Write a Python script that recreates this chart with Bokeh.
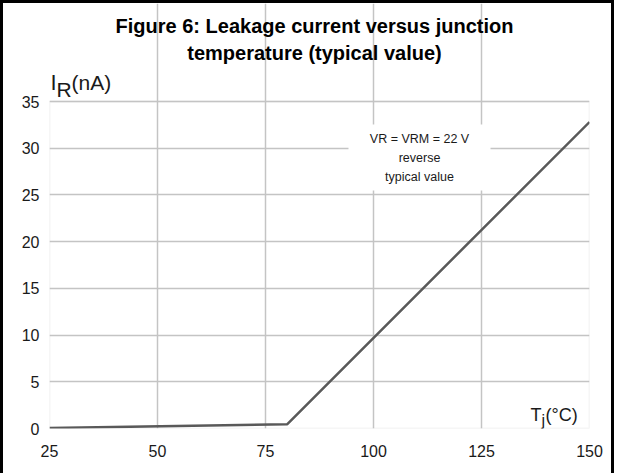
from bokeh.plotting import figure
from bokeh.models import Label, BoxAnnotation, Range1d, FixedTicker
from bokeh.embed import file_html
from bokeh.resources import INLINE

# ---- data ----
tj_c = [25, 80, 150]
ir_na = [0.05, 0.45, 32.8]
x_ticks = [25, 50, 75, 100, 125, 150]
y_ticks = [0, 5, 10, 15, 20, 25, 30, 35]
title_lines = ["Figure 6: Leakage current versus junction", "temperature (typical value)"]
note_lines = ["VR = VRM = 22 V", "reverse", "typical value"]

FONT = "Liberation Sans"
GRID = "#c4c4c4"
W, H = 614, 473

# layout mapping: reference-page pixel -> data coordinates (positions only)
X0, X1, Y0, Y1 = 49.0, 589.0, 428.0, 101.0
def dx(px):
    return 25 + (px - X0) * 125.0 / (X1 - X0)
def dy(py):
    return (Y0 - py) * 35.0 / (Y0 - Y1)

p = figure(width=W, height=H, output_backend="svg", toolbar_location=None,
           x_range=Range1d(25, 150), y_range=Range1d(0, dy(3)),
           min_border_left=46, min_border_right=28, min_border_top=0, min_border_bottom=48)
p.styles = {"border-left": "3px solid black", "border-top": "3px solid black",
            "border-right": "3px solid black"}
p.outline_line_color = None
p.background_fill_color = "white"
p.border_fill_color = "white"

for ax in (p.xaxis, p.yaxis):
    ax.axis_line_color = None
    ax.major_tick_line_color = None
    ax.minor_tick_line_color = None
    ax.major_label_text_font = FONT
    ax.major_label_text_font_size = "16px"
    ax.major_label_text_color = "#1a1a1a"
p.xaxis.ticker = FixedTicker(ticks=x_ticks)
p.yaxis.ticker = FixedTicker(ticks=y_ticks)
p.xaxis.major_label_standoff = 10
p.yaxis.major_label_standoff = 4

p.xgrid.ticker = FixedTicker(ticks=x_ticks)
p.ygrid.ticker = FixedTicker(ticks=y_ticks)
p.xgrid.bounds = (0, 35)
for g in (p.xgrid, p.ygrid):
    g.grid_line_color = GRID
    g.grid_line_width = 1.5

# plot-area border
p.add_layout(BoxAnnotation(left=25, right=150, bottom=0, top=35, fill_alpha=0,
                           line_color=GRID, line_width=1.5, level="underlay"))

p.line(tj_c, ir_na, line_color="#595959", line_width=2.5)

# white note box
p.add_layout(BoxAnnotation(left=dx(348), right=dx(490), bottom=dy(190), top=dy(124),
                           fill_color="white", fill_alpha=1, line_color=None, level="annotation"))
for txt, py in zip(note_lines, [138, 157, 176]):
    p.add_layout(Label(x=dx(419), y=dy(py), text=txt, text_align="center", text_baseline="middle",
                       text_font=FONT, text_font_size="12.5px", text_color="#1a1a1a"))

# title
for txt, py in zip(title_lines, [25, 52]):
    p.add_layout(Label(x=dx(314), y=dy(py), text=txt, text_align="center", text_baseline="alphabetic",
                       text_font=FONT, text_font_style="bold", text_font_size="20px",
                       text_color="black"))

def lab(txt, px, py, size):
    p.add_layout(Label(x=dx(px), y=dy(py), text=txt, text_align="left", text_baseline="alphabetic",
                       text_font=FONT, text_font_size=size, text_color="#1a1a1a"))
# I_R(nA)
lab("I", 50, 82, "22px")
lab("R", 56, 89, "21px")
lab("(nA)", 71, 82, "21px")
# T_j(°C)
lab("T", 530, 414, "18px")
lab("j", 541, 420, "16px")
lab("(°C)", 545, 414, "18px")

open("out.html", "w").write(file_html(p, INLINE))
